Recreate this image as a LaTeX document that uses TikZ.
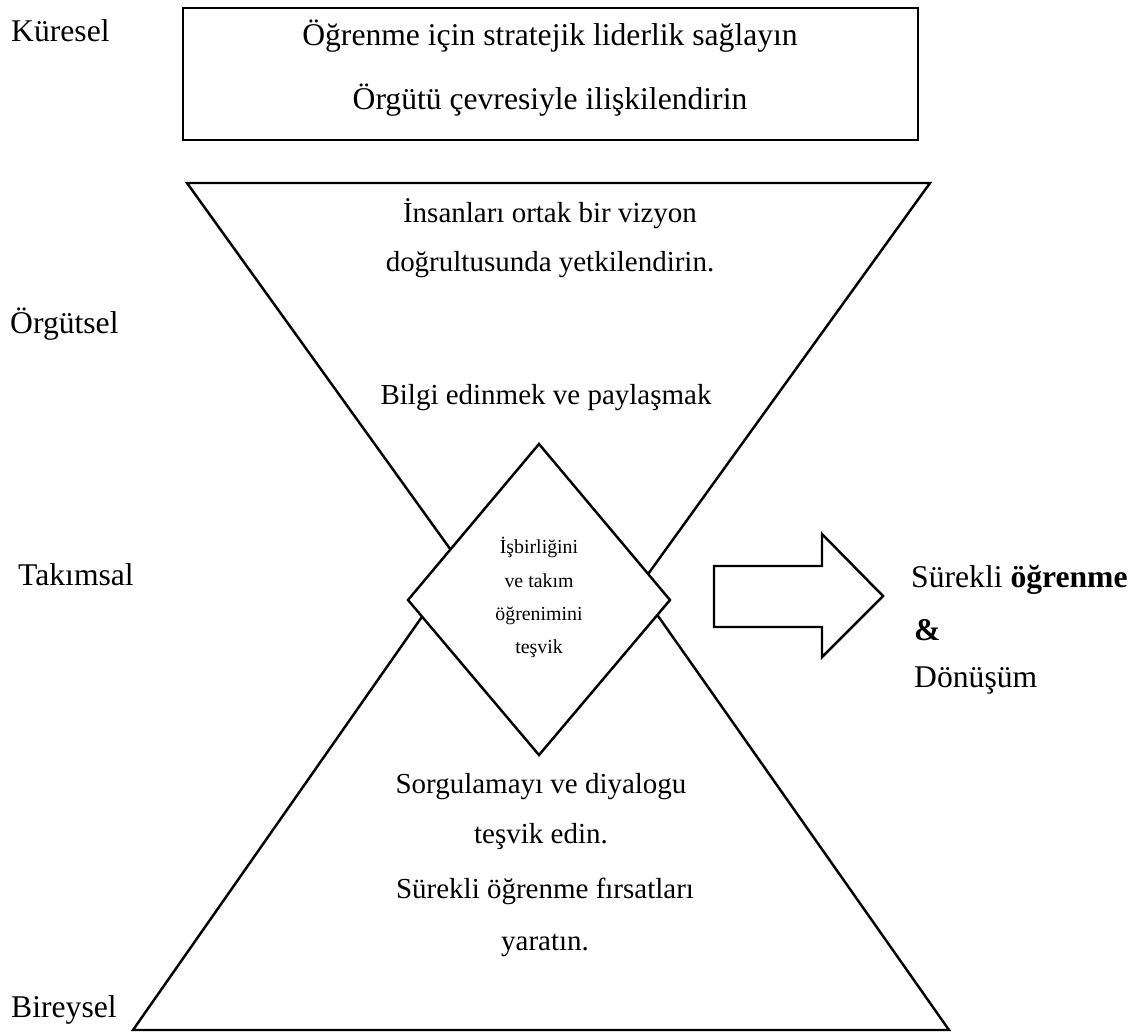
\documentclass[tikz,border=0pt]{standalone}
\usepackage{fontspec}
\setmainfont{Liberation Serif}
\usetikzlibrary{positioning}

\begin{document}
\begin{tikzpicture}[x=0.02cm, y=-0.02cm, line width=1.4pt,
    lbl/.style={font=\fontsize{18}{21}\selectfont, inner sep=0pt, anchor=base west},
    boxtxt/.style={font=\fontsize{18}{21}\selectfont, inner sep=0pt, anchor=base},
    txt/.style={font=\fontsize{16.5}{20}\selectfont, inner sep=0pt, anchor=base},
    dtxt/.style={font=\fontsize{11.3}{13}\selectfont, inner sep=0pt, anchor=base}]

        \useasboundingbox (0,0) rectangle (1143,1034);

        % Level labels
        \node[lbl] (kuresel) at (10,42) {Küresel};
        \node[lbl] (orgutsel) at (9,333) {Örgütsel};
        \node[lbl] (takimsal) at (17,585) {Takımsal};
        \node[lbl] (bireysel) at (10,1017) {Bireysel};

        % Global box
        \draw (183,8) rectangle (918,140);
        \node[boxtxt] (liderlik) at (550,46) {Öğrenme için stratejik liderlik sağlayın};
        \node[boxtxt] (cevre) at (550,110) {Örgütü çevresiyle ilişkilendirin};

        % Upper triangle (organisational)
        \draw (187,183) -- (930,183) -- (558,699) -- cycle;
        \node[txt] (vizyon1) at (550,222) {İnsanları ortak bir vizyon};
        \node[txt] (vizyon2) at (550,271) {doğrultusunda yetkilendirin.};
        \node[txt] (bilgi) at (546,404) {Bilgi edinmek ve paylaşmak};

        % Lower triangle (individual)
        \draw (133,1030) -- (949,1030) -- (540,448) -- cycle;
        \node[txt] (sorgu1) at (541,793) {Sorgulamayı ve diyalogu};
        \node[txt] (sorgu2) at (541,843) {teşvik edin.};
        \node[txt] (firsat1) at (545,898) {Sürekli öğrenme fırsatları};
        \node[txt] (firsat2) at (545,950) {yaratın.};

        % Team diamond
        \draw[fill=white] (408,600) -- (539,444) -- (670,600) -- (539,755) -- cycle;
        \node[dtxt] (isbirligi1) at (539,553) {İşbirliğini};
        \node[dtxt] (isbirligi2) at (539,587) {ve takım};
        \node[dtxt] (isbirligi3) at (539,620) {öğrenimini};
        \node[dtxt] (isbirligi4) at (539,653) {teşvik};

        % Block arrow
        \draw (714,566) -- (822,566) -- (822,534) -- (883,596) -- (822,657) -- (822,627) -- (714,627) -- cycle;

        % Outcome
        \node[lbl] (surekli) at (910,587) {Sürekli \textbf{öğrenme}};
        \node[lbl] (ve) at (913,640) {\textbf{\&}};
        \node[lbl] (donusum) at (913,687) {Dönüşüm};

      \end{tikzpicture}
\end{document}
